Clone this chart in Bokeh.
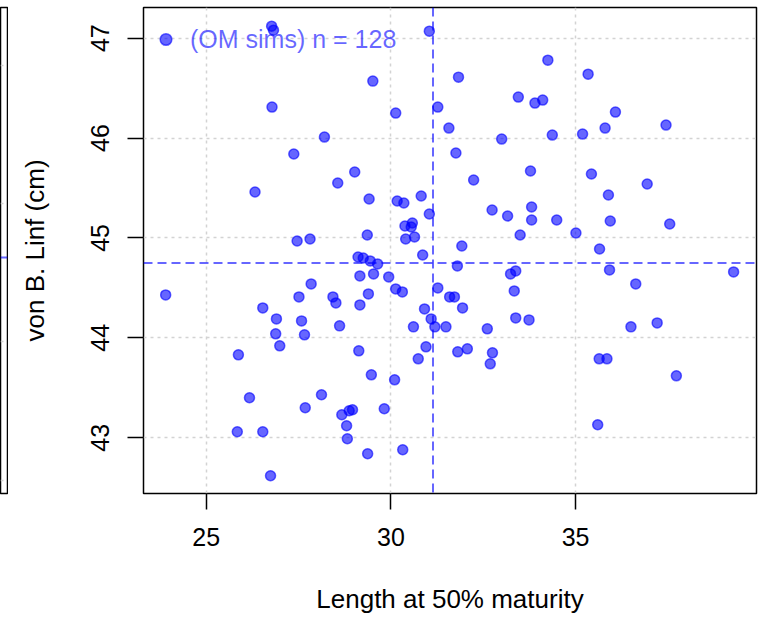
from bokeh.plotting import figure
from bokeh.models import Range1d, FixedTicker, Span, Legend, LegendItem, ColumnDataSource, Grid
from bokeh.layouts import row
from bokeh.embed import file_html
from bokeh.resources import INLINE

# ---- data ----
lm50 = [26.77, 26.82, 31.04, 29.51, 26.78, 30.13, 31.27, 31.57, 28.20, 27.37,
        29.02, 28.56, 26.32, 29.41, 30.17, 30.35, 30.82, 31.04, 30.38, 30.58,
        30.55, 29.36, 30.40, 30.64, 27.46, 27.81, 34.25, 31.83, 35.34, 33.45,
        33.90, 34.11, 36.08, 35.80, 37.45, 33.00, 34.37, 35.19, 31.76, 33.78,
        35.43, 32.24, 36.94, 35.89, 32.74, 33.16, 33.81, 33.81, 34.49, 35.94,
        37.55, 33.50, 35.01, 31.92, 35.65, 30.86, 29.11, 29.25, 29.44, 29.64,
        29.16, 29.53, 29.94, 27.84, 23.90, 27.51, 28.43, 28.51, 29.39, 29.16,
        30.13, 30.31, 31.27, 31.59, 26.53, 26.90, 27.58, 30.91, 31.09, 31.19,
        31.49, 30.61, 28.61, 26.88, 27.66, 26.99, 25.87, 29.13, 30.95, 30.74,
        29.47, 30.10, 26.17, 28.12, 27.68, 29.82, 28.67, 28.87, 28.96, 28.80,
        28.82, 25.84, 26.53, 29.37, 30.32, 26.74, 31.80, 33.24, 33.38, 35.92,
        39.28, 36.63, 31.72, 33.34, 31.94, 33.38, 33.74, 32.61, 36.50, 37.21,
        31.81, 32.07, 32.75, 32.69, 35.64, 35.85, 37.73, 35.60]
linf = [47.12, 47.08, 47.07, 46.57, 46.31, 46.25, 46.31, 46.10, 46.01, 45.84,
        45.66, 45.55, 45.46, 45.39, 45.37, 45.35, 45.42, 45.24, 45.12, 45.15,
        45.11, 45.03, 44.99, 45.01, 44.97, 44.99, 46.78, 46.61, 46.64, 46.41,
        46.35, 46.38, 46.26, 46.10, 46.13, 45.99, 46.03, 46.04, 45.85, 45.67,
        45.64, 45.58, 45.54, 45.43, 45.28, 45.22, 45.31, 45.18, 45.18, 45.17,
        45.14, 45.03, 45.05, 44.92, 44.89, 44.83, 44.81, 44.80, 44.77, 44.74,
        44.62, 44.64, 44.61, 44.54, 44.43, 44.41, 44.41, 44.35, 44.44, 44.33,
        44.49, 44.46, 44.50, 44.41, 44.30, 44.19, 44.17, 44.29, 44.19, 44.11,
        44.11, 44.11, 44.12, 44.04, 44.03, 43.92, 43.83, 43.87, 43.91, 43.79,
        43.63, 43.58, 43.40, 43.43, 43.30, 43.29, 43.23, 43.27, 43.28, 43.12,
        42.99, 43.06, 43.06, 42.84, 42.88, 42.62, 44.72, 44.64, 44.67, 44.68,
        44.66, 44.54, 44.41, 44.47, 44.30, 44.20, 44.18, 44.09, 44.11, 44.15,
        43.86, 43.89, 43.85, 43.74, 43.79, 43.79, 43.62, 43.13]
x_ticks = [25, 30, 35]
y_ticks = [43, 44, 45, 46, 47]
median_lm50 = 31.14
median_linf = 44.75
x_label = "Length at 50% maturity"
y_label = "von B. Linf (cm)"
legend_label = "(OM sims) n = %d" % len(lm50)

# neighbouring (cropped) panel on the left: only its edge is visible
stub_grid = [13, 152, 290, 428]
stub_median = 236

FONT = "Liberation Sans"
PT_COLOR = "blue"
PT_ALPHA = 0.6

# ---- cropped left panel ----
stub = figure(width=8, height=617, x_range=Range1d(0, 1), y_range=Range1d(0, 486),
              x_axis_type=None, y_axis_type=None,
              min_border_left=0, min_border_right=1, min_border_top=7, min_border_bottom=124,
              output_backend="svg", toolbar_location=None)
stub.outline_line_color = "black"
stub.outline_line_width = 1.5
stub.add_layout(Grid(dimension=1, ticker=FixedTicker(ticks=stub_grid),
                     grid_line_color="#d3d3d3", grid_line_dash="3 4", grid_line_width=1.5))
stub.add_layout(Span(location=stub_median, dimension="width", line_color=PT_COLOR,
                     line_alpha=PT_ALPHA, line_width=2, line_dash="9 5"))

# ---- main panel ----
p = figure(width=763, height=617,
           x_range=Range1d(23.30, 39.90), y_range=Range1d(42.442, 47.307),
           min_border_left=135, min_border_right=15, min_border_top=7, min_border_bottom=124,
           output_backend="svg", toolbar_location=None)
p.background_fill_color = "white"
p.border_fill_color = "white"
p.outline_line_color = "black"
p.outline_line_width = 1.5
p.outline_line_alpha = 1.0

for ax, ticks in ((p.xaxis, x_ticks), (p.yaxis, y_ticks)):
    ax.ticker = FixedTicker(ticks=ticks)
    ax.axis_line_color = None
    ax.major_tick_in = 0
    ax.major_tick_out = 16
    ax.major_tick_line_width = 1.5
    ax.major_tick_line_color = "black"
    ax.minor_tick_line_color = None
    ax.major_label_text_font = FONT
    ax.major_label_text_font_size = "25px"
    ax.major_label_text_color = "black"
    ax.axis_label_text_font = FONT
    ax.axis_label_text_font_size = "26px"
    ax.axis_label_text_font_style = "normal"
    ax.axis_label_text_color = "black"

p.xaxis.axis_label = x_label
p.yaxis.axis_label = y_label
p.xaxis.major_label_standoff = 18
p.xaxis.axis_label_standoff = 35
p.yaxis.major_label_orientation = "vertical"
p.yaxis.major_label_standoff = 18
p.yaxis.axis_label_standoff = 39

for g in (p.xgrid, p.ygrid):
    g.grid_line_color = "#d3d3d3"
    g.grid_line_dash = "3 4"
    g.grid_line_width = 1.5

src = ColumnDataSource(dict(x=lm50, y=linf))
r = p.scatter("x", "y", source=src, size=10, marker="circle",
              fill_color=PT_COLOR, fill_alpha=PT_ALPHA,
              line_color=PT_COLOR, line_alpha=PT_ALPHA, line_width=1.5)

p.add_layout(Span(location=median_lm50, dimension="height", line_color=PT_COLOR,
                  line_alpha=PT_ALPHA, line_width=2, line_dash="9 5"))
p.add_layout(Span(location=median_linf, dimension="width", line_color=PT_COLOR,
                  line_alpha=PT_ALPHA, line_width=2, line_dash="9 5"))

legend = Legend(items=[LegendItem(label=legend_label, renderers=[r])],
                location="top_left", margin=8, padding=8,
                glyph_width=29, glyph_height=48, label_height=48, label_standoff=10,
                label_text_font=FONT, label_text_font_size="25px",
                label_text_color=PT_COLOR, label_text_alpha=PT_ALPHA,
                border_line_color=None, background_fill_alpha=0)
p.add_layout(legend)

layout = row(stub, p)
open("out.html", "w").write(file_html(layout, INLINE))
